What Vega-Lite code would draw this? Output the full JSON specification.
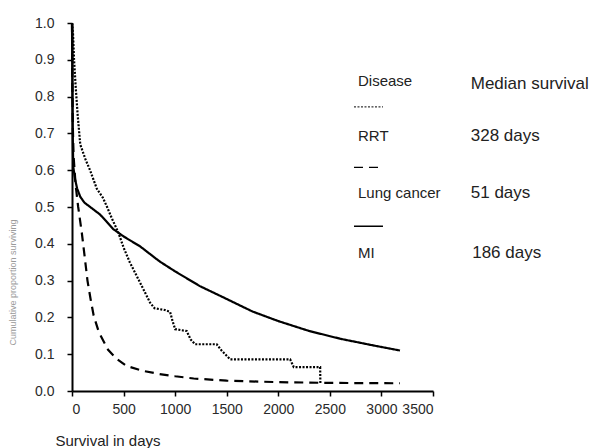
{
  "$schema": "https://vega.github.io/schema/vega-lite/v6.json",
  "autosize": {"type": "none"},
  "padding": {"left": 72, "top": 23, "right": 175, "bottom": 57},
  "width": 361,
  "height": 368,
  "background": "white",
  "config": {
    "view": {"stroke": null},
    "font": "Liberation Sans",
    "axis": {
      "domainColor": "black",
      "domainWidth": 2,
      "tickColor": "black",
      "tickWidth": 1.5,
      "tickSize": 5,
      "grid": false,
      "labelFont": "Liberation Sans",
      "labelFontSize": 14,
      "labelColor": "#2a2a2a",
      "labelOverlap": false,
      "labelSeparation": -30,
      "titleFont": "Liberation Sans",
      "titleFontWeight": "normal"
    }
  },
  "datasets": {
    "curves": [
      {"disease": "RRT", "days": 0, "survival": 1.0},
      {"disease": "RRT", "days": 10, "survival": 0.97},
      {"disease": "RRT", "days": 20, "survival": 0.9},
      {"disease": "RRT", "days": 35, "survival": 0.83},
      {"disease": "RRT", "days": 55, "survival": 0.75},
      {"disease": "RRT", "days": 80, "survival": 0.67},
      {"disease": "RRT", "days": 130, "survival": 0.63},
      {"disease": "RRT", "days": 175, "survival": 0.6},
      {"disease": "RRT", "days": 240, "survival": 0.55},
      {"disease": "RRT", "days": 300, "survival": 0.525},
      {"disease": "RRT", "days": 340, "survival": 0.5},
      {"disease": "RRT", "days": 385, "survival": 0.47},
      {"disease": "RRT", "days": 450, "survival": 0.43},
      {"disease": "RRT", "days": 500, "survival": 0.39},
      {"disease": "RRT", "days": 560, "survival": 0.35},
      {"disease": "RRT", "days": 650, "survival": 0.3},
      {"disease": "RRT", "days": 757, "survival": 0.24},
      {"disease": "RRT", "days": 800, "survival": 0.225},
      {"disease": "RRT", "days": 900, "survival": 0.22},
      {"disease": "RRT", "days": 951, "survival": 0.215},
      {"disease": "RRT", "days": 975, "survival": 0.19},
      {"disease": "RRT", "days": 1000, "survival": 0.168},
      {"disease": "RRT", "days": 1112, "survival": 0.163},
      {"disease": "RRT", "days": 1150, "survival": 0.14},
      {"disease": "RRT", "days": 1193, "survival": 0.127},
      {"disease": "RRT", "days": 1403, "survival": 0.127},
      {"disease": "RRT", "days": 1450, "survival": 0.11},
      {"disease": "RRT", "days": 1533, "survival": 0.086},
      {"disease": "RRT", "days": 2115, "survival": 0.086},
      {"disease": "RRT", "days": 2150, "survival": 0.065},
      {"disease": "RRT", "days": 2406, "survival": 0.065},
      {"disease": "RRT", "days": 2408, "survival": 0.022},
      {"disease": "Lung cancer", "days": 0, "survival": 1.0},
      {"disease": "Lung cancer", "days": 3, "survival": 0.85},
      {"disease": "Lung cancer", "days": 8, "survival": 0.72},
      {"disease": "Lung cancer", "days": 15, "survival": 0.64},
      {"disease": "Lung cancer", "days": 35, "survival": 0.56},
      {"disease": "Lung cancer", "days": 60, "survival": 0.5},
      {"disease": "Lung cancer", "days": 95, "survival": 0.43},
      {"disease": "Lung cancer", "days": 125, "survival": 0.36},
      {"disease": "Lung cancer", "days": 150, "survival": 0.3},
      {"disease": "Lung cancer", "days": 180, "survival": 0.25},
      {"disease": "Lung cancer", "days": 210, "survival": 0.205},
      {"disease": "Lung cancer", "days": 260, "survival": 0.16},
      {"disease": "Lung cancer", "days": 350, "survival": 0.112},
      {"disease": "Lung cancer", "days": 430, "survival": 0.088},
      {"disease": "Lung cancer", "days": 530, "survival": 0.068},
      {"disease": "Lung cancer", "days": 680, "survival": 0.055},
      {"disease": "Lung cancer", "days": 850, "survival": 0.046},
      {"disease": "Lung cancer", "days": 1000, "survival": 0.04},
      {"disease": "Lung cancer", "days": 1180, "survival": 0.034},
      {"disease": "Lung cancer", "days": 1500, "survival": 0.028},
      {"disease": "Lung cancer", "days": 2000, "survival": 0.024},
      {"disease": "Lung cancer", "days": 2500, "survival": 0.022},
      {"disease": "Lung cancer", "days": 3180, "survival": 0.021},
      {"disease": "MI", "days": 0, "survival": 1.0},
      {"disease": "MI", "days": 4, "survival": 0.8},
      {"disease": "MI", "days": 8, "survival": 0.68},
      {"disease": "MI", "days": 12, "survival": 0.61},
      {"disease": "MI", "days": 30, "survival": 0.575},
      {"disease": "MI", "days": 50, "survival": 0.55},
      {"disease": "MI", "days": 80, "survival": 0.528},
      {"disease": "MI", "days": 120, "survival": 0.512},
      {"disease": "MI", "days": 200, "survival": 0.495},
      {"disease": "MI", "days": 270, "survival": 0.48},
      {"disease": "MI", "days": 330, "survival": 0.462},
      {"disease": "MI", "days": 400, "survival": 0.44},
      {"disease": "MI", "days": 500, "survival": 0.42},
      {"disease": "MI", "days": 660, "survival": 0.393},
      {"disease": "MI", "days": 850, "survival": 0.352},
      {"disease": "MI", "days": 1000, "survival": 0.325},
      {"disease": "MI", "days": 1240, "survival": 0.285},
      {"disease": "MI", "days": 1500, "survival": 0.25},
      {"disease": "MI", "days": 1750, "survival": 0.216},
      {"disease": "MI", "days": 2000, "survival": 0.19},
      {"disease": "MI", "days": 2300, "survival": 0.163},
      {"disease": "MI", "days": 2600, "survival": 0.142},
      {"disease": "MI", "days": 2900, "survival": 0.125},
      {"disease": "MI", "days": 3180, "survival": 0.11}
    ],
    "keys": [
      {"disease": "RRT", "from": 2734, "to": 3015, "level": 0.772},
      {"disease": "Lung cancer", "from": 2734, "to": 2986, "level": 0.608},
      {"disease": "MI", "from": 2734, "to": 3015, "level": 0.448}
    ],
    "names": [
      {"label": "Disease", "at": 2773, "level": 0.843},
      {"label": "RRT", "at": 2773, "level": 0.692},
      {"label": "Lung cancer", "at": 2773, "level": 0.538},
      {"label": "MI", "at": 2773, "level": 0.374}
    ],
    "medians": [
      {"label": "Median survival", "at": 3866, "level": 0.835},
      {"label": "328 days", "at": 3866, "level": 0.692},
      {"label": "51 days", "at": 3866, "level": 0.538},
      {"label": "186 days", "at": 3880, "level": 0.374}
    ]
  },
  "encoding": {
    "y": {
      "type": "quantitative",
      "scale": {"domain": [0, 1], "nice": false},
      "axis": {
        "tickCount": 10,
        "labelOverlap": false,
        "format": ".1f",
        "labelPadding": 13,
        "title": "Cumulative proportion surviving",
        "titleFontSize": 9,
        "titleColor": "#9a9a9a",
        "titleAngle": -90,
        "titleAlign": "center",
        "titleBaseline": "middle",
        "titleX": -60,
        "titleY": 259
      }
    }
  },
  "layer": [
    {
      "data": {"name": "curves"},
      "mark": {"type": "line", "color": "black", "strokeWidth": 2.2, "clip": false},
      "encoding": {
        "x": {
          "field": "days", "type": "quantitative",
          "scale": {"domain": [0, 3500], "nice": false},
          "axis": {
            "values": [0, 500, 1000, 1500, 2000, 2500, 3000, 3500],
            "format": "d",
            "labelPadding": 6,
            "title": "Survival in days",
            "titleFontSize": 15,
            "titleColor": "#222",
            "titleAlign": "left",
            "titleAnchor": "start",
            "titleBaseline": "middle",
            "titleX": -17,
            "titleY": 49
          }
        },
        "y": {"field": "survival"},
        "strokeDash": {
          "field": "disease", "type": "nominal",
          "scale": {"domain": ["RRT", "Lung cancer", "MI"], "range": [[2, 1.5], [9, 6], [1, 0]]},
          "legend": null
        }
      }
    },
    {
      "data": {"name": "keys"},
      "mark": {"type": "rule", "color": "black"},
      "encoding": {
        "x": {"field": "from", "type": "quantitative"},
        "x2": {"field": "to"},
        "y": {"field": "level"},
        "strokeDash": {"field": "disease", "type": "nominal", "legend": null},
        "strokeWidth": {
          "field": "disease", "type": "nominal",
          "scale": {"domain": ["RRT", "Lung cancer", "MI"], "range": [1, 1.5, 3]},
          "legend": null
        }
      }
    },
    {
      "data": {"name": "names"},
      "mark": {"type": "text", "align": "left", "baseline": "middle", "fontSize": 15, "color": "#222", "font": "Liberation Sans"},
      "encoding": {
        "x": {"field": "at", "type": "quantitative"},
        "y": {"field": "level"},
        "text": {"field": "label"}
      }
    },
    {
      "data": {"name": "medians"},
      "mark": {"type": "text", "align": "left", "baseline": "middle", "fontSize": 17, "color": "#222", "font": "Liberation Sans"},
      "encoding": {
        "x": {"field": "at", "type": "quantitative"},
        "y": {"field": "level"},
        "text": {"field": "label"}
      }
    }
  ]
}
